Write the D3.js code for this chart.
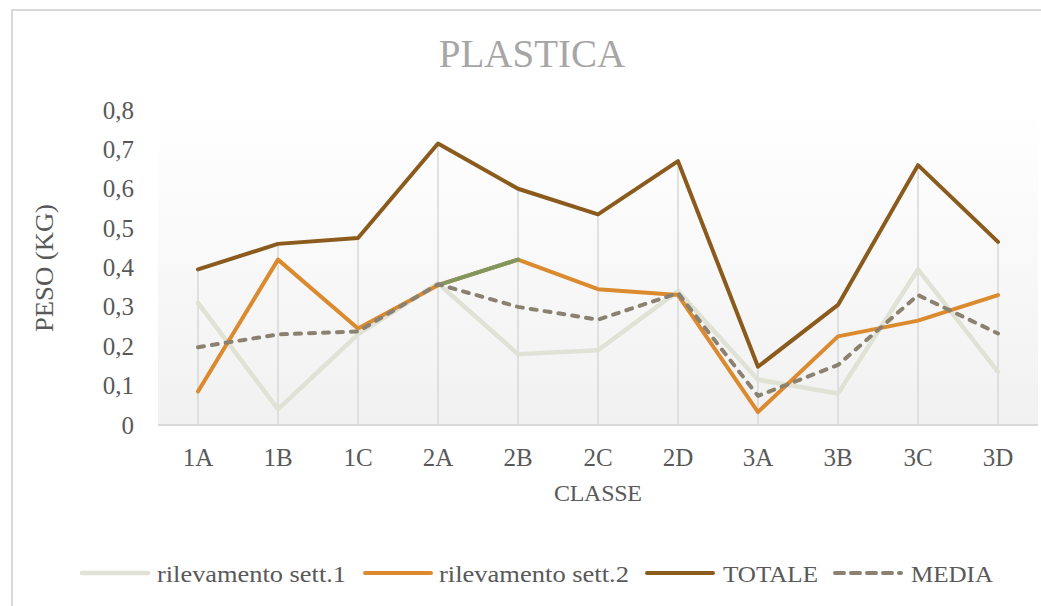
<!DOCTYPE html>
<html><head><meta charset="utf-8">
<script src="https://cdn.jsdelivr.net/npm/d3@7"></script>
<style>body{margin:0;background:#fff;} text{font-family:"Palatino Linotype","Book Antiqua",Palatino,"Liberation Serif",serif;}</style>
</head><body>
<svg id="c" width="1041" height="606"></svg>
<script>
const categories = ["1A","1B","1C","2A","2B","2C","2D","3A","3B","3C","3D"];
const sett1  = [0.31, 0.04, 0.23, 0.36, 0.18, 0.19, 0.34, 0.115, 0.08, 0.395, 0.135];
const sett2  = [0.085, 0.42, 0.245, 0.355, 0.42, 0.345, 0.33, 0.033, 0.225, 0.265, 0.33];
const totale = [0.395, 0.46, 0.475, 0.715, 0.60, 0.535, 0.67, 0.148, 0.305, 0.66, 0.465];
const media  = [0.1975, 0.23, 0.2375, 0.3575, 0.30, 0.2675, 0.335, 0.074, 0.1525, 0.33, 0.2325];
const yTicks = [0, 0.1, 0.2, 0.3, 0.4, 0.5, 0.6, 0.7, 0.8];
const seriesNames = ["rilevamento sett.1","rilevamento sett.2","TOTALE","MEDIA"];

const svg = d3.select("#c");
const L = 158, R = 1038, T = 110, B = 425;
const x = d3.scaleBand().domain(categories).range([L, R]);
const y = d3.scaleLinear().domain([0, 0.8]).range([B, T]);
const cx = c => x(c) + x.bandwidth()/2;
const FONT = '"Palatino Linotype","Book Antiqua",Palatino,"Liberation Serif",serif';

// outer border
svg.append("rect").attr("x",12).attr("y",10).attr("width",1100).attr("height",700)
  .attr("fill","#fff").attr("stroke","#d9d9d9").attr("stroke-width",2);

// plot background gradient
const defs = svg.append("defs");
const g = defs.append("linearGradient").attr("id","bg").attr("x1",0).attr("y1",0).attr("x2",0).attr("y2",1);
g.append("stop").attr("offset","0").attr("stop-color","#ffffff");
g.append("stop").attr("offset","1").attr("stop-color","#f1f1f1");
svg.append("rect").attr("x",L).attr("y",T).attr("width",R-L).attr("height",B-T).attr("fill","url(#bg)");

// title
svg.append("text").attr("x",532).attr("y",67).attr("text-anchor","middle")
  .attr("font-size",39).attr("fill","#a6a6a6").text("PLASTICA");

// drop lines
const maxVals = categories.map((c,i)=>Math.max(sett1[i],sett2[i],totale[i],media[i]));
svg.append("g").selectAll("line").data(categories).join("line")
  .attr("x1",d=>cx(d)).attr("x2",d=>cx(d))
  .attr("y1",y(0)).attr("y2",(d,i)=>y(maxVals[i]))
  .attr("stroke","#d9d9d9").attr("stroke-width",1.5);

// baseline
svg.append("line").attr("x1",L).attr("x2",R).attr("y1",B).attr("y2",B)
  .attr("stroke","#d9d9d9").attr("stroke-width",2);

// y axis
const yAxis = d3.axisLeft(y).tickValues(yTicks).tickSize(0).tickPadding(0)
  .tickFormat(d => d3.format("")(+d.toFixed(1)).replace(".",","));
const ya = svg.append("g").attr("transform","translate(134,0)").call(yAxis);
ya.select(".domain").remove();
ya.selectAll("text").attr("font-size",25).attr("fill","#595959").attr("font-family",FONT);

// x axis
const xAxis = d3.axisBottom(x).tickSize(0).tickPadding(0);
const xa = svg.append("g").attr("transform",`translate(0,${B})`).call(xAxis);
xa.select(".domain").remove();
xa.selectAll("text").attr("font-size",25).attr("fill","#595959").attr("dy",null).attr("y",41)
  .attr("font-family",FONT);

// axis titles
svg.append("text").attr("x",598).attr("y",501).attr("text-anchor","middle")
  .attr("font-size",24).attr("fill","#595959").attr("textLength",88).text("CLASSE");
svg.append("text").attr("transform","translate(53,268) rotate(-90)").attr("text-anchor","middle")
  .attr("font-size",25).attr("fill","#595959").attr("textLength",128)
  .attr("lengthAdjust","spacingAndGlyphs").text("PESO (KG)");

// lines
const line = d3.line().x((d,i)=>cx(categories[i])).y(d=>y(d));
const colors = ["#e0e2d6","#dc8a2e","#8a5b1c","#8b8171"];
const widths = [4.5,4,4,4];
[sett1, sett2, totale, media].forEach((s,k)=>{
  const p = svg.append("path").datum(s).attr("d",line).attr("fill","none")
    .attr("stroke",colors[k]).attr("stroke-width",widths[k])
    .attr("stroke-linejoin","round").attr("stroke-linecap","round");
  if (k===3) p.attr("stroke-dasharray","6,8");
  if (k===1) {
    // 2A -> 2B segment drawn in green in the reference
    svg.append("line").attr("x1",cx("2A")).attr("y1",y(sett2[3])).attr("x2",cx("2B")).attr("y2",y(sett2[4]))
      .attr("stroke","#82965f").attr("stroke-width",4).attr("stroke-linecap","round");
  }
});

// legend
const legX = [82, 365, 647, 835];
const legTextX = [157, 439, 723, 911];
const legTextW = [189, 190, 95, 82];
const leg = svg.append("g");
seriesNames.forEach((n,k)=>{
  const l = leg.append("line").attr("x1",legX[k]).attr("x2",legX[k]+66).attr("y1",573).attr("y2",573)
    .attr("stroke",colors[k]).attr("stroke-width",k===0?4.5:4).attr("stroke-linecap","round");
  if (k===3) l.attr("stroke-dasharray","9,7");
  leg.append("text").attr("x",legTextX[k]).attr("y",582).attr("font-size",24).attr("fill","#595959")
    .attr("textLength",legTextW[k]).attr("lengthAdjust","spacingAndGlyphs").text(n);
});
</script>
</body></html>
